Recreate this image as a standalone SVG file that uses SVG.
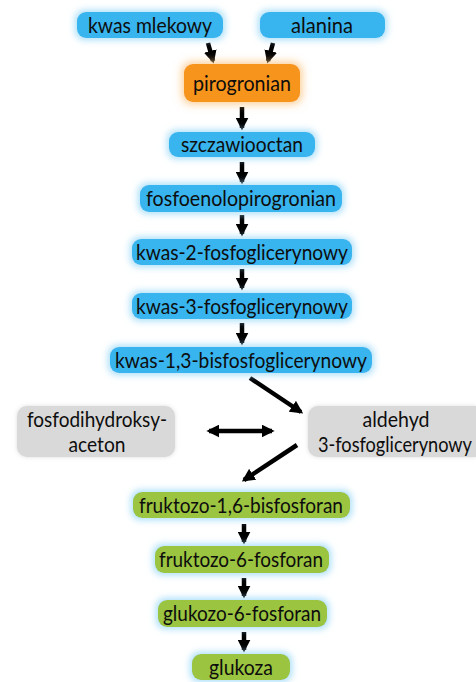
<svg xmlns="http://www.w3.org/2000/svg" width="476" height="682" viewBox="0 0 476 682">
<defs>
<filter id="glowBlue" x="-20%" y="-60%" width="140%" height="220%">
<feMorphology in="SourceAlpha" operator="dilate" radius="1.5" result="d"/>
<feGaussianBlur in="d" stdDeviation="3.5" result="b"/>
<feFlood flood-color="#9ad9f8" flood-opacity="0.85"/>
<feComposite in2="b" operator="in" result="g"/>
<feMerge><feMergeNode in="g"/><feMergeNode in="SourceGraphic"/></feMerge>
</filter>
<filter id="glowOrange" x="-20%" y="-50%" width="140%" height="200%">
<feMorphology in="SourceAlpha" operator="dilate" radius="1.5" result="d"/>
<feGaussianBlur in="d" stdDeviation="4" result="b"/>
<feFlood flood-color="#fbc47e" flood-opacity="0.85"/>
<feComposite in2="b" operator="in" result="g"/>
<feMerge><feMergeNode in="g"/><feMergeNode in="SourceGraphic"/></feMerge>
</filter>
<filter id="shadowGray" x="-20%" y="-30%" width="140%" height="160%">
<feGaussianBlur in="SourceAlpha" stdDeviation="2" result="b"/>
<feFlood flood-color="#bbbbbb" flood-opacity="0.5"/>
<feComposite in2="b" operator="in" result="g"/>
<feMerge><feMergeNode in="g"/><feMergeNode in="SourceGraphic"/></feMerge>
</filter>
<marker id="ah" viewBox="0 0 10 10" refX="8" refY="5" markerWidth="13" markerHeight="13" markerUnits="userSpaceOnUse" orient="auto-start-reverse">
<path d="M0,0 L10,5 L0,10 Z" fill="#000"/>
</marker>
<style>
.blue{fill:#39b4ee;filter:url(#glowBlue)}
.orange{fill:#f7941d;filter:url(#glowOrange)}
.green{fill:#9bc43f;filter:url(#glowBlue)}
.gray{fill:#d9d9d9;filter:url(#shadowGray)}
text{font-family:Lato,"Open Sans","Liberation Sans",sans-serif;font-size:22px;fill:#0d0d0d;text-anchor:middle}
.arr{stroke:#000;stroke-width:4.5;fill:none;marker-end:url(#ah)}
.arr2{stroke:#000;stroke-width:4.5;fill:none;marker-end:url(#ah);marker-start:url(#ah)}
</style>
</defs>
<rect width="476" height="682" fill="#fff"/>

<g id="connectors">
<line class="arr" x1="208" y1="43" x2="213" y2="61"/>
<line class="arr" x1="273" y1="43" x2="268" y2="61"/>
<line class="arr" x1="242" y1="107" x2="242" y2="128"/>
<line class="arr" x1="242" y1="162" x2="242" y2="182"/>
<line class="arr" x1="242" y1="215" x2="242" y2="234"/>
<line class="arr" x1="242" y1="269" x2="242" y2="288"/>
<line class="arr" x1="242" y1="323" x2="242" y2="343"/>
<line class="arr" x1="250" y1="378" x2="301" y2="412"/>
<line class="arr2" x1="209" y1="431" x2="272" y2="431"/>
<line class="arr" x1="297" y1="445" x2="244" y2="480"/>
<line class="arr" x1="244" y1="524" x2="244" y2="542"/>
<line class="arr" x1="244" y1="578" x2="244" y2="596"/>
<line class="arr" x1="244" y1="632" x2="244" y2="650"/>
</g>

<g id="n-kwas-mlekowy"><rect class="blue" x="77" y="12" width="146" height="26" rx="9"/><text x="150" y="33" textLength="124" lengthAdjust="spacingAndGlyphs">kwas mlekowy</text></g>
<g id="n-alanina"><rect class="blue" x="260" y="12" width="125" height="26" rx="9"/><text x="322" y="33" textLength="62" lengthAdjust="spacingAndGlyphs">alanina</text></g>
<g id="n-pirogronian"><rect class="orange" x="184" y="64" width="116" height="38" rx="9"/><text x="242" y="91" textLength="98" lengthAdjust="spacingAndGlyphs">pirogronian</text></g>
<g id="n-szczawiooctan"><rect class="blue" x="169" y="132" width="146" height="25" rx="9"/><text x="242" y="152" textLength="122" lengthAdjust="spacingAndGlyphs">szczawiooctan</text></g>
<g id="n-fosfoenolopirogronian"><rect class="blue" x="140" y="185" width="202" height="27" rx="9"/><text x="241" y="206" textLength="190" lengthAdjust="spacingAndGlyphs">fosfoenolopirogronian</text></g>
<g id="n-kwas-2"><rect class="blue" x="132" y="239" width="220" height="26" rx="9"/><text x="242" y="260" textLength="212" lengthAdjust="spacingAndGlyphs">kwas-2-fosfoglicerynowy</text></g>
<g id="n-kwas-3"><rect class="blue" x="132" y="293" width="220" height="26" rx="9"/><text x="242" y="314" textLength="212" lengthAdjust="spacingAndGlyphs">kwas-3-fosfoglicerynowy</text></g>
<g id="n-kwas-13"><rect class="blue" x="110" y="347" width="262" height="26" rx="9"/><text x="241" y="368" textLength="252" lengthAdjust="spacingAndGlyphs">kwas-1,3-bisfosfoglicerynowy</text></g>
<g id="n-fosfodihydroksyaceton"><rect class="gray" x="17" y="406" width="158" height="51" rx="10"/><text x="97" y="427" textLength="140" lengthAdjust="spacingAndGlyphs">fosfodihydroksy-</text><text x="97" y="452" textLength="57" lengthAdjust="spacingAndGlyphs">aceton</text></g>
<g id="n-aldehyd"><path class="gray" d="M318,406 H476 V457 H318 A10,10 0 0 1 308,447 V416 A10,10 0 0 1 318,406 Z"/><text x="396" y="427" textLength="67" lengthAdjust="spacingAndGlyphs">aldehyd</text><text x="395" y="452" textLength="154" lengthAdjust="spacingAndGlyphs">3-fosfoglicerynowy</text></g>
<g id="n-fruktozo-16"><rect class="green" x="133" y="492" width="217" height="26" rx="9"/><text x="241" y="513" textLength="204" lengthAdjust="spacingAndGlyphs">fruktozo-1,6-bisfosforan</text></g>
<g id="n-fruktozo-6"><rect class="green" x="155" y="546" width="174" height="27" rx="9"/><text x="241" y="567" textLength="164" lengthAdjust="spacingAndGlyphs">fruktozo-6-fosforan</text></g>
<g id="n-glukozo-6"><rect class="green" x="158" y="600" width="169" height="27" rx="9"/><text x="242" y="621" textLength="158" lengthAdjust="spacingAndGlyphs">glukozo-6-fosforan</text></g>
<g id="n-glukoza"><rect class="green" x="192" y="654" width="98" height="26" rx="9"/><text x="241" y="675" textLength="64" lengthAdjust="spacingAndGlyphs">glukoza</text></g>
</svg>
